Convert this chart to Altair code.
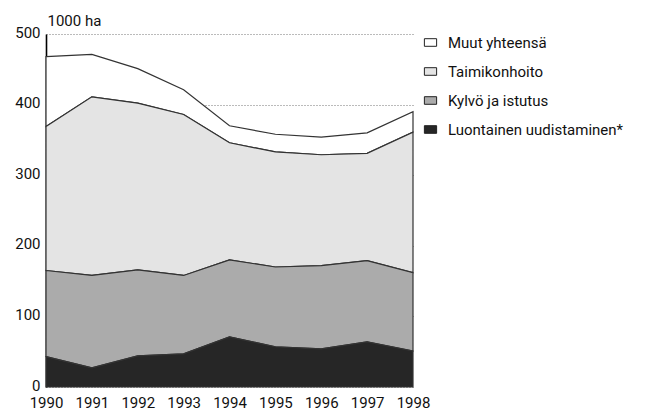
import altair as alt
import pandas as pd

years = [1990, 1991, 1992, 1993, 1994, 1995, 1996, 1997, 1998]
luontainen = [43, 27, 44, 47, 71, 57, 54, 64, 51]
kylvo = [122, 131, 122, 111, 109, 113, 118, 115, 111]
taimikonhoito = [204, 253, 236, 228, 166, 163, 157, 152, 199]
muut = [99, 60, 49, 35, 24, 25, 25, 29, 29]

series = ["Muut yhteensä", "Taimikonhoito", "Kylvö ja istutus", "Luontainen uudistaminen*"]
colors = ["#ffffff", "#e4e4e4", "#ababab", "#262626"]
values = [muut, taimikonhoito, kylvo, luontainen]

rows = []
for i, (name, vals) in enumerate(zip(series, values)):
    for y, v in zip(years, vals):
        rows.append({"year": y, "value": v, "series": name, "ord": len(series) - i})
df = pd.DataFrame(rows)

FONT = "Roboto"
FS = 15

chart = alt.Chart(df).mark_area(stroke="#333333", strokeWidth=1.2, interpolate="linear").encode(
    x=alt.X("year:Q",
            scale=alt.Scale(domain=[1990, 1998], nice=False, zero=False),
            axis=alt.Axis(title=None, values=years, format="d", labelFlush=False,
                          domain=False, ticks=False, grid=False,
                          labelFontSize=FS, labelPadding=8, labelColor="#111", labelFont=FONT)),
    y=alt.Y("value:Q", stack="zero",
            scale=alt.Scale(domain=[0, 500], nice=False),
            axis=alt.Axis(title="1000 ha", values=[0, 100, 200, 300, 400, 500],
                          titleAngle=0, titleAlign="left", titleBaseline="bottom",
                          titleX=1, titleY=-6, titleFontSize=FS, titleFontWeight="normal",
                          titleFont=FONT, titleColor="#111",
                          labelFontSize=FS, labelPadding=6, labelOffset=-2,
                          labelColor="#111", labelFont=FONT,
                          ticks=False, domain=True, domainColor="#000", domainWidth=1.6,
                          grid=True, gridColor="#777", gridDash=[1, 2], gridWidth=1)),
    color=alt.Color("series:N",
                    scale=alt.Scale(domain=series, range=colors),
                    legend=alt.Legend(title=None, orient="none", legendX=377, legendY=1,
                                      symbolType="M-1,-0.62H1V0.62H-1Z", symbolSize=150,
                                      symbolStrokeColor="#222", symbolStrokeWidth=1,
                                      labelFontSize=FS, labelFont=FONT, labelColor="#111",
                                      labelOffset=10, rowPadding=13, labelLimit=300)),
    order=alt.Order("ord:Q", sort="ascending"),
).properties(
    width=367, height=353,
    autosize=alt.AutoSizeParams(type="none"),
    padding={"left": 38, "top": 26, "right": 231, "bottom": 25},
).configure_view(stroke=None)

chart.save("out.html", embed_options={"renderer": "svg", "actions": False})
